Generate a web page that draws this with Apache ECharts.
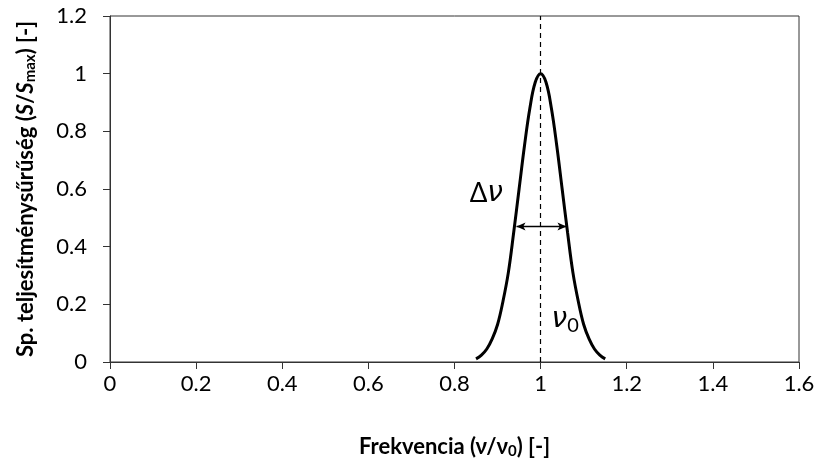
<!DOCTYPE html>
<html>
<head>
<meta charset="utf-8">
<script src="https://cdn.jsdelivr.net/npm/echarts@6/dist/echarts.min.js"></script>
<style>
html,body{margin:0;padding:0;background:#fff;}
#chart{width:820px;height:468px;}
</style>
</head>
<body>
<div id="chart"></div>
<script>
// Data
var freq = [0.85, 0.8625, 0.875, 0.8875, 0.9, 0.9125, 0.925, 0.9375, 0.95, 0.9625, 0.975, 0.9875, 1.0,
            1.0125, 1.025, 1.0375, 1.05, 1.0625, 1.075, 1.0875, 1.1, 1.1125, 1.125, 1.1375, 1.15];
var psd  = [0.011, 0.024, 0.045, 0.08, 0.13, 0.21, 0.31, 0.45, 0.6, 0.75, 0.88, 0.97, 1.0,
            0.97, 0.88, 0.75, 0.6, 0.45, 0.31, 0.21, 0.13, 0.08, 0.045, 0.024, 0.011];
var xTicks = {min: 0, max: 1.6, step: 0.2};
var yTicks = {min: 0, max: 1.2, step: 0.2};
var centerFreq = 1.0;
var widthArrow = {from: 0.944, to: 1.06, level: 0.47};
var deltaLabelPos = [0.874, 0.583];
var nu0LabelPos = [1.057, 0.146];

var FONT = "Lato, 'Open Sans', 'DejaVu Sans', sans-serif";
var chart = echarts.init(document.getElementById('chart'), null, {renderer: 'canvas'});

var option = {
  animation: false,
  backgroundColor: '#fff',
  grid: {left: 110, right: 21, top: 16, bottom: 106, show: true, borderColor: '#333', borderWidth: 1, backgroundColor: 'transparent'},
  xAxis: {
    type: 'value', min: xTicks.min, max: xTicks.max, interval: xTicks.step,
    axisLine: {show: true, onZero: false, lineStyle: {color: '#333', width: 1}},
    axisTick: {show: true, inside: false, length: 7, lineStyle: {color: '#333'}},
    splitLine: {show: false},
    axisLabel: {color: '#000', fontSize: 22, fontFamily: FONT, margin: 11},
    name: '{b|Frekvencia (ν/ν}{bs|0}{b|) [-]}',
    nameLocation: 'middle', nameGap: 72,
    nameTextStyle: {
      fontSize: 22, fontWeight: 'bold', fontFamily: FONT, color: '#000',
      rich: {
        b: {fontSize: 22, fontWeight: 'bold', fontFamily: FONT, color: '#000'},
        bs: {fontSize: 15, fontWeight: 'bold', fontFamily: FONT, color: '#000', padding: [10, 0, 0, 0]}
      }
    }
  },
  yAxis: {
    type: 'value', min: yTicks.min, max: yTicks.max, interval: yTicks.step,
    axisLine: {show: true, lineStyle: {color: '#333', width: 1}},
    axisTick: {show: true, inside: false, length: 7, lineStyle: {color: '#333'}},
    splitLine: {show: false},
    axisLabel: {color: '#000', fontSize: 22, fontFamily: FONT, margin: 23},
    name: '{b|Sp. teljesítménysűrűség (}{bi|S}{b|/}{bi|S}{bs|max}{b|) [-]}',
    nameLocation: 'middle', nameGap: 72, nameRotate: 90,
    nameTextStyle: {
      fontSize: 22, fontWeight: 'bold', fontFamily: FONT, color: '#000',
      rich: {
        b: {fontSize: 22, fontWeight: 'bold', fontFamily: FONT, color: '#000'},
        bi: {fontSize: 22, fontWeight: 'bold', fontStyle: 'italic', fontFamily: FONT, color: '#000'},
        bs: {fontSize: 15, fontWeight: 'bold', fontFamily: FONT, color: '#000', padding: [10, 0, 0, 0]}
      }
    }
  },
  series: [{
    type: 'line',
    data: freq.map(function (f, i) { return [f, psd[i]]; }),
    smooth: 0.4,
    showSymbol: false,
    symbol: 'none',
    lineStyle: {color: '#000', width: 3},
    markLine: {
      silent: true,
      animation: false,
      symbol: ['none', 'none'],
      label: {show: false},
      data: [
        {xAxis: centerFreq, lineStyle: {type: [5, 4], color: '#000', width: 1.2}},
        [
          {coord: [widthArrow.from, widthArrow.level], symbol: 'arrow', symbolSize: [6, 9]},
          {coord: [widthArrow.to, widthArrow.level], symbol: 'arrow', symbolSize: [6, 9]}
        ]
      ],
      lineStyle: {color: '#000', width: 1.3, type: 'solid'}
    },
    markPoint: {
      silent: true,
      symbol: 'circle', symbolSize: 0,
      data: [
        {coord: deltaLabelPos, label: {show: true, position: 'inside', formatter: '{n|Δ}{i|ν}'}},
        {coord: nu0LabelPos, label: {show: true, position: 'inside', formatter: '{i|ν}{s|0}'}}
      ],
      label: {
        rich: {
          n: {fontSize: 26, fontFamily: FONT, color: '#000'},
          i: {fontSize: 28, fontStyle: 'italic', fontFamily: "'DejaVu Sans', sans-serif", color: '#000'},
          s: {fontSize: 20, fontFamily: FONT, color: '#000', padding: [12, 0, 0, 0]}
        }
      }
    }
  }]
};
chart.setOption(option);
</script>
</body>
</html>
